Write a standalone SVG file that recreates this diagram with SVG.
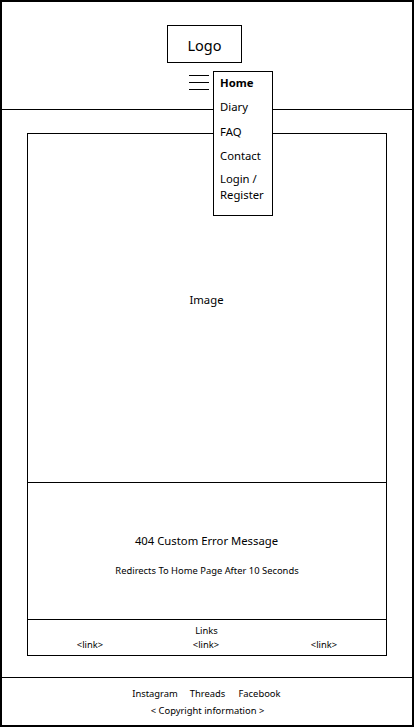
<svg xmlns="http://www.w3.org/2000/svg" width="414" height="727" viewBox="0 0 414 727">
<style>
text{font-family:"Noto Sans","Open Sans",sans-serif;fill:#000}
.box{fill:#fff;stroke:#000;stroke-width:1}
.ln{stroke:#000;stroke-width:1;fill:none}
.m{font-size:11.3px}
.s{font-size:9.4px}
</style>
<rect x="1" y="1" width="412" height="725" fill="#fff" stroke="#000" stroke-width="2"/>
<g id="connectors">
<line class="ln" x1="2" y1="109.5" x2="412" y2="109.5"/>
<line class="ln" x1="2" y1="677.5" x2="412" y2="677.5"/>
</g>
<g id="logo">
<rect class="box" x="167.5" y="25.5" width="74" height="37"/>
<text x="204.5" y="51" text-anchor="middle" font-size="14.5">Logo</text>
</g>
<g id="hamburger">
<line class="ln" x1="189" y1="75.5" x2="209" y2="75.5"/>
<line class="ln" x1="189" y1="82.5" x2="209" y2="82.5"/>
<line class="ln" x1="189" y1="89.5" x2="209" y2="89.5"/>
</g>
<g id="content">
<rect class="box" x="27.5" y="133.5" width="359" height="522"/>
<line class="ln" x1="27.5" y1="482.5" x2="386.5" y2="482.5"/>
<line class="ln" x1="27.5" y1="619.5" x2="386.5" y2="619.5"/>
</g>
<g id="image">
<text class="m" x="206.5" y="304" text-anchor="middle">Image</text>
</g>
<g id="error">
<text x="206.5" y="545" text-anchor="middle" font-size="11.3">404 Custom Error Message</text>
<text class="s" x="207" y="574" text-anchor="middle">Redirects To Home Page After 10 Seconds</text>
</g>
<g id="links">
<text class="s" x="206.5" y="634" text-anchor="middle">Links</text>
<text class="s" x="90" y="648" text-anchor="middle">&lt;link&gt;</text>
<text class="s" x="206" y="648" text-anchor="middle">&lt;link&gt;</text>
<text class="s" x="324" y="648" text-anchor="middle">&lt;link&gt;</text>
</g>
<g id="footer">
<text class="s" x="155" y="697" text-anchor="middle">Instagram</text>
<text class="s" x="207.5" y="697" text-anchor="middle">Threads</text>
<text class="s" x="259.5" y="697" text-anchor="middle">Facebook</text>
<text class="s" x="207.5" y="714" text-anchor="middle">&lt; Copyright information &gt;</text>
</g>
<g id="menu">
<rect class="box" x="213.5" y="71.5" width="59" height="144"/>
<text class="m" x="220" y="86.5" font-weight="bold">Home</text>
<text class="m" x="220" y="110.5">Diary</text>
<text class="m" x="220" y="135.5">FAQ</text>
<text class="m" x="220" y="159.5">Contact</text>
<text class="m" x="220" y="182.5">Login /</text>
<text class="m" x="220" y="198.5">Register</text>
</g>
</svg>
